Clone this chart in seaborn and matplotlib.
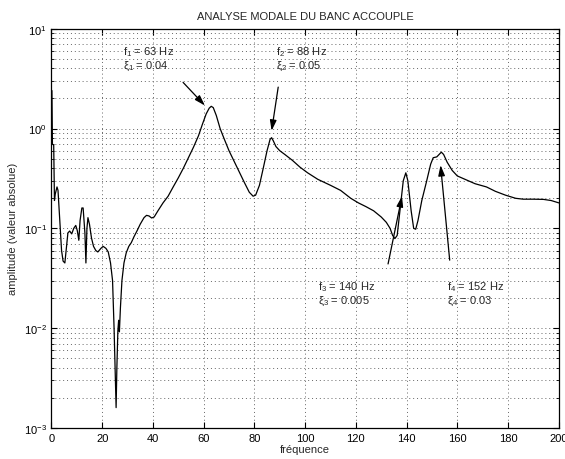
import numpy as np
import pandas as pd
import matplotlib
matplotlib.use("Agg")
import matplotlib.pyplot as plt
import seaborn as sns

# frequency response (Hz, |H|)
freq = [0.2, 0.4, 0.9, 1.2, 1.5, 2.2, 2.6, 3.3, 4.0, 4.6, 5.3, 5.8, 6.5, 7.2, 8.0,
        8.8, 9.6, 10.2, 10.8, 11.3, 12.0, 12.5, 13.2, 13.6, 14.0, 14.4, 15.0, 15.8,
        16.6, 17.5, 18.3, 19.5, 20.4, 21.5, 22.4, 23.3, 24.1, 24.7, 25.2, 25.5, 25.8,
        26.2, 26.5, 26.8, 27.2, 27.8, 28.6, 29.5, 30.5, 31.5, 32.5, 33.8, 35.0, 36.5,
        37.5, 38.5, 39.5, 40.5, 42.0, 44.0, 46.0, 48.0, 50.0, 52.0, 54.0, 56.0, 58.0,
        59.5, 61.0, 62.2, 63.0, 63.8, 65.0, 66.5, 68.0, 70.0, 72.0, 74.0, 76.0, 78.0,
        79.5, 80.5, 82.0, 83.5, 85.0, 86.2, 86.8, 87.5, 88.5, 90.0, 92.0, 95.0, 98.0,
        101.0, 105.0, 110.0, 114.0, 118.0, 121.0, 124.0, 127.0, 130.0, 132.0, 133.5,
        134.5, 135.4, 136.3, 137.5, 138.7, 139.7, 140.5, 141.8, 142.8, 143.6, 144.5,
        146.0, 147.8, 149.5, 150.5, 151.9, 152.8, 153.7, 154.6, 156.0, 158.0, 160.0,
        163.0, 167.0, 171.5, 175.0, 179.0, 183.0, 186.0, 190.0, 194.0, 197.0, 200.0]
amp = [2.4, 0.7, 0.68, 0.19, 0.22, 0.26, 0.24, 0.12, 0.06, 0.047, 0.045, 0.06, 0.09,
       0.094, 0.088, 0.1, 0.107, 0.095, 0.076, 0.12, 0.16, 0.16, 0.09, 0.045, 0.1,
       0.128, 0.11, 0.08, 0.066, 0.06, 0.058, 0.063, 0.066, 0.063, 0.058, 0.045, 0.03,
       0.01, 0.003, 0.0016, 0.004, 0.0095, 0.012, 0.0092, 0.016, 0.03, 0.045, 0.057,
       0.066, 0.072, 0.082, 0.095, 0.11, 0.128, 0.135, 0.133, 0.127, 0.13, 0.15, 0.18,
       0.21, 0.26, 0.32, 0.40, 0.51, 0.65, 0.85, 1.1, 1.4, 1.6, 1.67, 1.62, 1.35, 1.0,
       0.8, 0.6, 0.47, 0.37, 0.29, 0.23, 0.21, 0.215, 0.27, 0.4, 0.6, 0.78, 0.81, 0.75,
       0.66, 0.6, 0.55, 0.48, 0.41, 0.36, 0.31, 0.27, 0.24, 0.2, 0.18, 0.165, 0.15,
       0.13, 0.115, 0.1, 0.085, 0.079, 0.085, 0.16, 0.3, 0.36, 0.3, 0.15, 0.1, 0.098,
       0.12, 0.19, 0.29, 0.44, 0.51, 0.52, 0.55, 0.58, 0.55, 0.46, 0.38, 0.335, 0.31,
       0.28, 0.26, 0.235, 0.215, 0.2, 0.196, 0.196, 0.195, 0.19, 0.18]

# modes: label text, text position, arrow tail, arrow head
mode_f = ["f$_1$ = 63 Hz", "f$_2$ = 88 Hz", "f$_3$ = 140 Hz", "f$_4$ = 152 Hz"]
mode_xi = [r"$\xi_1$ = 0.04", r"$\xi_2$ = 0.05", r"$\xi_3$ = 0.005", r"$\xi_4$ = 0.03"]
text_x = [28.2, 88.5, 105.1, 155.9]
text_y_f = [5.9, 5.9, 0.0266, 0.0266]
text_y_xi = [4.3, 4.3, 0.0188, 0.0188]
tail_x = [51.9, 89.4, 132.7, 157.0]
tail_y = [2.9, 2.6, 0.044, 0.048]
head_x = [60.5, 86.8, 138.2, 153.4]
head_y = [1.7, 0.95, 0.21, 0.43]

sns.set_style("ticks")
plt.rcParams["font.family"] = ["Liberation Sans", "DejaVu Sans"]
plt.rcParams["mathtext.default"] = "regular"
plt.rcParams["font.size"] = 8

df = pd.DataFrame({"freq": freq, "amp": amp})

fig = plt.figure(figsize=(5.65, 4.6), dpi=100)
ax = fig.add_axes([0.091, 0.0674, 0.898, 0.868])
sns.lineplot(data=df, x="freq", y="amp", ax=ax, color="k", lw=0.9,
             estimator=None, sort=False)

ax.set_yscale("log")
ax.set_xlim(0, 200)
ax.set_ylim(1e-3, 1e1)
ax.set_xticks(np.arange(0, 201, 20))
grid_kw = dict(ls=(0, (1, 3)), color="0.4", lw=0.7)
ax.grid(True, which="major", axis="x", **grid_kw)
ax.grid(True, which="both", axis="y", **grid_kw)
ax.tick_params(which="both", direction="in", top=True, right=True, labelsize=8,
               colors="k")
ax.tick_params(which="major", length=4)
ax.tick_params(which="minor", length=2)
for sp in ax.spines.values():
    sp.set_color("k")
    sp.set_linewidth(0.9)

ax.set_xlabel("fréquence", fontsize=8, labelpad=1)
ax.set_ylabel("amplitude (valeur absolue)", fontsize=8, labelpad=4)
ax.set_title("ANALYSE MODALE DU BANC ACCOUPLE", fontsize=8, pad=7)

for i in range(4):
    ax.text(text_x[i], text_y_f[i], mode_f[i], fontsize=8, va="center", ha="left")
    ax.text(text_x[i], text_y_xi[i], mode_xi[i], fontsize=8, va="center", ha="left")
    ax.annotate("", xy=(head_x[i], head_y[i]), xytext=(tail_x[i], tail_y[i]),
                arrowprops=dict(arrowstyle="-|>,head_length=0.7,head_width=0.22",
                                color="k", lw=0.9, mutation_scale=9,
                                shrinkA=0, shrinkB=0))

fig.savefig("out.png", dpi=100)
